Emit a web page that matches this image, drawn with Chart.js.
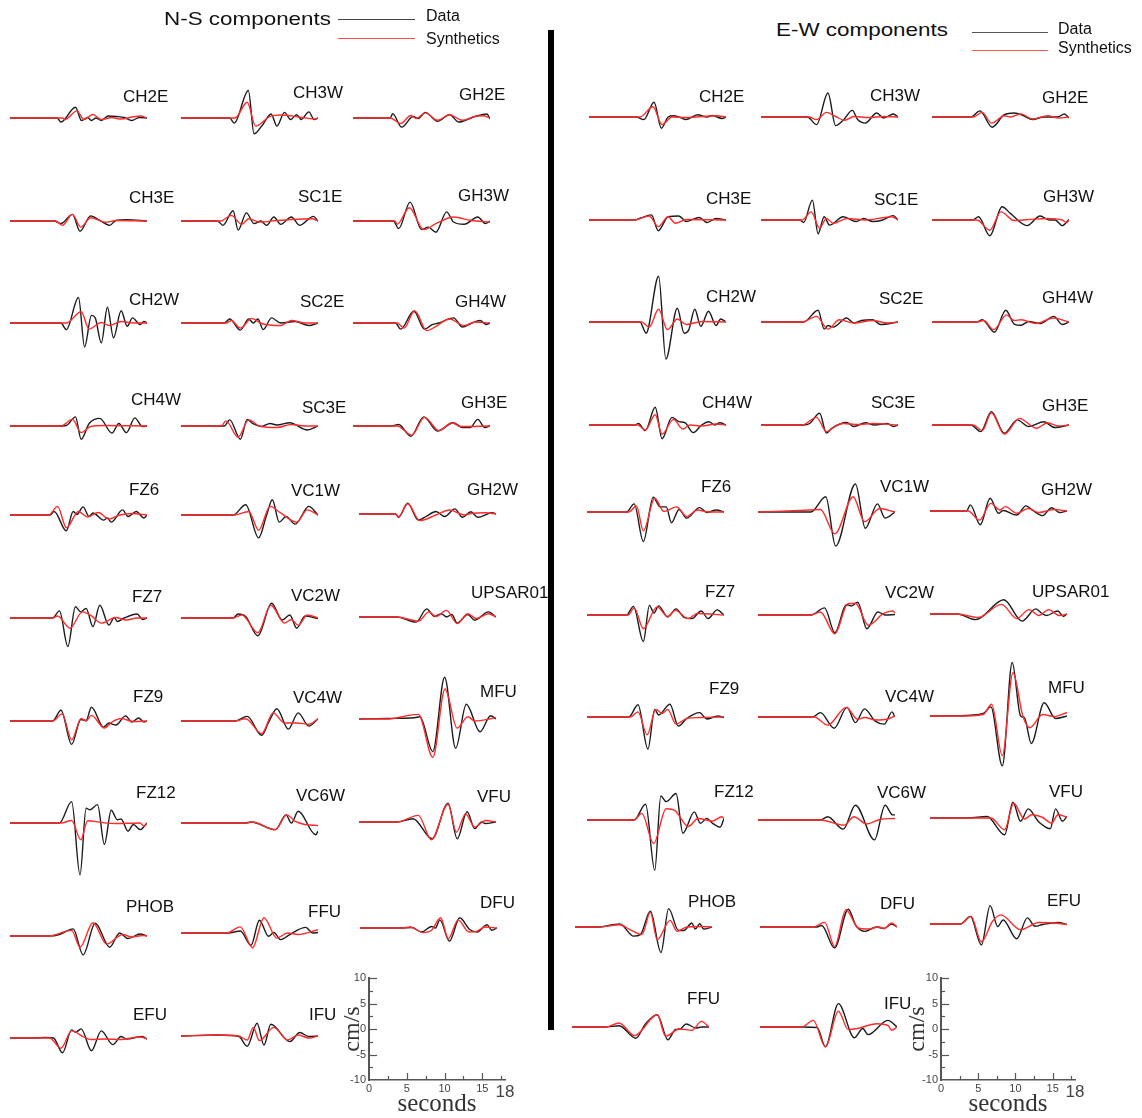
<!DOCTYPE html>
<html>
<head>
<meta charset="utf-8">
<script src="https://cdn.jsdelivr.net/npm/chart.js@4.4.0/dist/chart.umd.min.js"></script>
<style>
  body { margin: 0; background: #fff; }
  #page { position: relative; width: 1142px; height: 1118px; overflow: hidden; font-family: "Liberation Sans", Arial, sans-serif; }
  #page canvas { position: absolute; }
  .lab { position: absolute; font-size: 17px; line-height: 20px; color: #111; white-space: nowrap; }
  .head { position: absolute; font-size: 19px; line-height: 22px; color: #111; white-space: nowrap; transform: scaleX(1.18); transform-origin: left center; }
  .leg { position: absolute; font-size: 16px; line-height: 18px; color: #111; white-space: nowrap; }
  .legline { position: absolute; height: 1px; }
  #divider { position: absolute; left: 548px; top: 30px; width: 6px; height: 1000px; background: #000; }
</style>
</head>
<body>
<div id="page"><div id="divider"></div></div>
<script>
// time (s), velocity (cm/s); _d = data, _s = synthetics

// ---- N-S components ----
const ns_CH2E_d = [[0,0],[6.2,0],[6.7,-0.8],[8.6,2.1],[9.4,-0.5],[10.2,0.1],[10.7,-0.5],[11.3,0],[12,-0.5],[12.9,0.4],[14,0.3],[15,0.1],[16,-0.5],[17,0.1],[18,0]];
const ns_CH2E_s = [[0,0],[6.9,0],[7.2,-0.3],[8.8,1.4],[9.7,-0.3],[10.9,0.7],[12,-0.3],[13.4,0.1],[14.4,-0.2],[17.1,0.4],[18,0]];
const ns_CH3W_d = [[0,0],[6.4,0],[7.0,-1],[8.85,5.4],[9.6,-3.1],[10.6,-1.6],[11.85,0.8],[12.6,-1.6],[13.6,1.1],[14.4,-0.3],[15.2,0.65],[15.8,-0.3],[16.8,1.2],[17.5,-0.3],[18,0]];
const ns_CH3W_s = [[0,0],[7.1,0],[8.7,3.1],[9.8,-1.6],[11.7,0.3],[13.1,0.6],[15.9,0.1],[17.7,-0.2],[18,0]];
const ns_GH2E_d = [[0,0],[4.9,0],[5.2,0.85],[6.4,-1.8],[7.9,0.3],[8.6,-0.1],[9.5,1.1],[11.1,-0.65],[12.7,0.65],[13.9,-0.8],[16,0.3],[17.6,0.8],[18,-0.2]];
const ns_GH2E_s = [[0,0],[4.9,0],[6.25,-1.1],[7.6,0.5],[8.3,-0.1],[9.5,1.0],[11.1,-0.45],[12.7,0.65],[14.35,-0.45],[16,0.3],[17.1,0.45],[18,0]];
const ns_CH3E_d = [[0,0],[5.8,0],[6.7,-0.5],[8.2,1.3],[9.2,-2],[10.6,1.0],[11.8,0.1],[13.1,-0.85],[13.9,0.1],[15.3,0.25],[18,0]];
const ns_CH3E_s = [[0,0],[6.0,0],[6.9,-0.85],[8.2,1.3],[9.3,-1.2],[10.6,0.65],[12.5,-0.25],[14,0.1],[18,0]];
const ns_SC1E_d = [[0,0],[4.8,0],[5.5,-0.85],[6.85,2.0],[7.5,-1.8],[8.6,1.6],[9.6,-0.5],[10.5,0],[11.25,-0.85],[12.2,0.8],[13.1,-0.65],[14.5,0.8],[15.6,-0.85],[17.4,0.9],[18,0]];
const ns_SC1E_s = [[0,0],[5.2,0],[6.6,1.1],[8,-0.65],[8.9,0.45],[10.3,-0.2],[12.6,0.1],[14.5,0.3],[17.3,0.45],[18,0]];
const ns_GH3W_d = [[0,0],[5.3,0],[6,-1.5],[7.5,3.7],[9,-1.7],[9.9,-1.2],[10.9,-2.2],[12.3,1.8],[13.2,-0.2],[14.6,-0.65],[16.4,0.8],[17.4,-0.5],[18,0]];
const ns_GH3W_s = [[0,0],[5.5,0],[5.8,-0.65],[7.4,2.6],[9.3,-1.7],[10.9,-0.5],[13.2,0.8],[15.5,0.1],[18,-0.2]];
const ns_CH2W_d = [[0,0],[6.7,0],[7.4,-1.3],[9.0,5.0],[9.8,-4.7],[10.7,1.5],[11.2,1.0],[12,-3.9],[12.8,3.1],[13.6,-2.9],[14.6,2.4],[15.4,-0.65],[16.1,1],[17.1,-0.3],[17.6,0.3],[18,0]];
const ns_CH2W_s = [[0,0],[7.4,0],[9.35,2.2],[10.4,-1.2],[12,0.1],[13,-0.5],[14.6,0.3],[16.2,0],[18,0]];
const ns_SC2E_d = [[0,0],[5.7,0],[6.4,0.8],[7.8,-1.4],[8.9,0.8],[9.5,0],[10.1,0.8],[10.8,-1.3],[11.9,1.0],[13.1,0],[15,0.3],[16.8,-0.5],[18,0]];
const ns_SC2E_s = [[0,0],[6.0,0],[6.6,0.5],[7.8,-1.0],[9.3,0.9],[10.6,-0.1],[13.1,-0.5],[14.5,0.5],[16.3,0],[18,0]];
const ns_GH4W_d = [[0,0],[5.6,0],[6.25,-1.2],[8,2.3],[9.4,-1.2],[10.4,-0.3],[11.3,0],[13.2,1],[14.4,-0.8],[15.5,-0.1],[16.7,0.5],[17.5,-0.3],[18,0]];
const ns_GH4W_s = [[0,0],[5.8,0],[6.7,-1.0],[8.1,2.4],[9.7,-1.5],[10.9,-0.65],[12.7,0.8],[14.6,-0.5],[16,0.2],[18,0]];
const ns_CH4W_d = [[0,0],[6.25,0],[7.4,0.1],[8.6,1.8],[9.35,-2.6],[10.4,0.5],[11.8,1.5],[13.4,-1.4],[14.3,0.5],[15.3,-1.3],[16.4,1.6],[17.4,-0.1],[18,0]];
const ns_CH4W_s = [[0,0],[6.7,0],[8.2,1.3],[9.35,-1.3],[10.6,-0.1],[12.5,0.1],[18,0]];
const ns_SC3E_d = [[0,0],[5.7,0],[6.4,1.2],[7.8,-2.6],[8.7,1.3],[9.4,0.5],[10.6,-0.1],[11.7,0.5],[12.6,0.2],[14.3,0.65],[16.6,-0.8],[18,0]];
const ns_SC3E_s = [[0,0],[5.3,0],[5.9,1.0],[7.5,-2.2],[8.9,1.2],[10.3,0],[12.6,-0.3],[14.5,0.3],[16.3,0],[18,0]];
const ns_GH3E_d = [[0,0],[5.1,0],[6,0.3],[7.6,-2.0],[9.3,1.8],[11.1,-1.0],[13.2,0.65],[14.4,-0.3],[15.4,-0.3],[16.4,1.3],[17.3,-0.3],[18,0]];
const ns_GH3E_s = [[0,0],[5.8,0],[7.7,-1.8],[9.4,1.7],[11.3,-0.9],[13,0.65],[14.1,-0.1],[18,0]];
const ns_FZ6_d = [[0,0],[5.3,0],[5.8,0.7],[7.4,-3.1],[8.3,0.7],[8.8,0.1],[9.6,1.6],[10.4,-0.3],[10.9,0.4],[12.3,-1.0],[12.8,-0.6],[13.3,-1.4],[14.8,1.0],[15.5,-0.3],[16.6,0.7],[17.6,-0.6],[18,0]];
const ns_FZ6_s = [[0,0],[5.1,0],[6.25,1.7],[7.4,-2.5],[9,0.7],[10.2,-0.4],[11.6,0.5],[13,-0.8],[14.4,0],[16,0.3],[18,0]];
const ns_VC1W_d = [[0,0],[6.85,0],[8.5,2.0],[10.2,-4.5],[11.25,0],[12,3.0],[12.9,-1.4],[13.8,-0.3],[15,-1.8],[16.8,1.7],[18,0]];
const ns_VC1W_s = [[0,0],[7.1,0],[8.9,0.7],[10.2,-3.0],[11.7,1.7],[13.1,0.4],[15.2,-1.4],[16.6,1.0],[18,0]];
const ns_GH2W_d = [[0,0],[4.8,0],[5.2,-0.65],[6.4,2.1],[7.8,-1.2],[8.9,-0.4],[10.1,0.5],[11.25,-0.5],[12.6,1.0],[13.6,-0.65],[14.7,0.45],[15.6,-0.65],[17.5,0.25],[18,0]];
const ns_GH2W_s = [[0,0],[4.8,0],[5.2,-0.5],[6.4,2.0],[8,-1.3],[10.1,-0.2],[11.9,0.8],[13.8,-0.2],[14.7,0.1],[16.6,0.25],[18,0]];
const ns_FZ7_d = [[0,0],[5.6,0],[6.5,1.4],[7.6,-5.6],[8.6,2.2],[9.3,1.2],[10,1.9],[10.9,-1.7],[11.8,2.5],[13,-1.4],[13.7,0.1],[14.1,-0.7],[15,0],[16.7,0.8],[17.4,-0.3],[18,0]];
const ns_FZ7_s = [[0,0],[5.6,0],[6.25,0.4],[7.9,-2.0],[9.5,1.2],[10.7,0.4],[12,-1.0],[13.9,0.1],[15.3,-0.4],[16.7,0],[18,0]];
const ns_VC2W_d = [[0,0],[6.85,0],[7.5,0.8],[8.5,0.3],[10.1,-3.5],[11.9,2.9],[13.3,-0.4],[14.3,0.6],[15.2,-2.0],[16.3,0.4],[18,-0.1]];
const ns_VC2W_s = [[0,0],[6.85,0],[8,0.6],[10.1,-2.9],[11.8,2.5],[13.6,-1.0],[14.5,-0.3],[15.4,-1.4],[16.6,0.6],[18,0]];
const ns_UPSAR01_d = [[0,0],[5,0],[7.5,-1.0],[8.9,1.6],[9.9,0.1],[10.8,0.65],[11.5,0],[12.2,0.5],[12.9,-1.2],[14.3,0.5],[15.2,-0.65],[17,1.0],[18,0]];
const ns_UPSAR01_s = [[0,0],[5,0],[7.8,-0.8],[9.2,1.0],[10.1,0.1],[11.5,1.3],[12.9,-1.3],[14.3,0.65],[15.4,-0.3],[17,0.65],[18,0]];
const ns_FZ9_d = [[0,0],[5.6,0],[6.7,2.1],[8.1,-4.6],[9.3,0.3],[10,0.1],[10.7,2.7],[12.3,-1.2],[13,-0.4],[13.9,-0.8],[15.2,1.0],[16,-0.2],[16.9,0.6],[17.6,-0.2],[18,0]];
const ns_FZ9_s = [[0,0],[5.6,0],[6.85,1.4],[8.1,-3.7],[9.35,0.5],[10,0],[10.7,1.1],[12.4,-1.4],[13.4,-0.2],[14.6,0.5],[16.2,-0.1],[18,0]];
const ns_VC4W_d = [[0,0],[7.1,0],[8.7,0.9],[10.6,-2.8],[11.5,-0.3],[12.6,2.4],[14.1,-1.6],[15.4,1.6],[16.8,-1.0],[18,0.4]];
const ns_VC4W_s = [[0,0],[7.1,0],[8.5,0.45],[10.6,-2.5],[12.1,1.6],[13.6,-0.4],[15.2,-0.4],[16.8,-0.65],[18,0.45]];
const ns_MFU_d = [[0,0],[3.6,0.1],[7.3,0.25],[8.0,0.45],[9.7,-6.4],[11.25,8.2],[12.7,-5.75],[14.1,2.9],[15.9,-2.5],[17.3,0.65],[18,0]];
const ns_MFU_s = [[0,0],[3.6,0],[7.8,0.9],[9.7,-7.5],[11.3,5.9],[12.9,-1.8],[14.3,0.45],[15.2,-0.4],[18,0.25]];
const ns_FZ12_d = [[0,0],[6.5,0],[8.1,4.2],[9.2,-10.2],[10,2.9],[10.5,2.6],[11.5,3.6],[12.4,-4.2],[13.3,2.5],[14.1,0.65],[14.6,0.8],[15.5,-1.6],[16.2,-0.3],[17.1,-1.3],[18,0]];
const ns_FZ12_s = [[0,0],[6.7,0],[8.1,0.5],[9.3,-3.3],[10.2,0.45],[12,0.1],[13.9,-0.1],[17.1,0],[17.6,-0.65],[18,0]];
const ns_VC6W_d = [[0,0],[8.5,0],[9.2,0.2],[12.4,-1.3],[13.8,1.6],[14.5,0],[15.4,2.3],[17.7,-2.3],[18,-1.6]];
const ns_VC6W_s = [[0,0],[8.5,0],[9.4,0.2],[12.4,-1.3],[13.9,1.6],[15,0.3],[16.3,-0.3],[18,-0.5]];
const ns_VFU_d = [[0,0],[5,0],[7.1,0.65],[9.6,-3.3],[11.7,3.7],[12.9,-3.3],[14.2,2.0],[15.2,-1.3],[16.1,0],[16.6,-0.3],[18,0]];
const ns_VFU_s = [[0,0],[5,0],[7.8,1.3],[9.5,-3.5],[11.7,3.5],[12.8,-2.0],[14,1.6],[15.2,-1.0],[16.6,0.3],[18,0]];
const ns_PHOB_d = [[0,0],[5.1,0],[6.5,0.3],[8.3,1.4],[9.6,-3.7],[11.2,2.5],[13.1,-2.2],[14.4,0.6],[15.5,-0.5],[17.1,0.4],[18,0]];
const ns_PHOB_s = [[0,0],[5.1,0],[8.1,1.1],[9.2,-2.2],[10.9,2.6],[12.7,-1.6],[14.8,0.3],[16,-0.2],[17.4,0.1],[18,0]];
const ns_FFU_d = [[0,0],[6.2,0],[7.8,0.4],[9.2,-2.4],[10.3,2.5],[11.5,-0.65],[12.2,0.1],[13.1,-1.3],[14.3,-0.3],[16.4,1.1],[17.3,0],[18,0.1]];
const ns_FFU_s = [[0,0],[6.0,0],[7.8,1.2],[9.4,-2.9],[10.9,3.0],[12.6,-1.0],[14,0],[15.4,-0.3],[18,0.65]];
const ns_DFU_d = [[0,0],[5.3,0],[6.8,0.1],[8.1,-0.8],[9.4,0.3],[9.9,0],[10.5,1.6],[11.75,-2.6],[13.1,2.0],[14.4,-0.3],[15.4,-0.8],[16.7,0.65],[17.3,-0.45],[18,0]];
const ns_DFU_s = [[0,0],[5.3,0],[6.6,0.2],[8.3,-0.9],[9.4,-0.45],[10.6,2.0],[11.6,-2.1],[12.9,1.6],[14.3,-0.8],[15.4,-0.6],[16.4,0.2],[18,0]];
const ns_EFU_d = [[0,0],[3.2,0],[4.6,0.1],[5.7,0],[6.9,-2.9],[8.1,1.6],[8.6,1.1],[9.35,1.8],[10.7,-2.5],[12,1.4],[13.5,-1.3],[14.6,0.3],[15.3,-0.2],[17.4,0.3],[18,-0.2]];
const ns_EFU_s = [[0,0],[5.2,0],[6.7,-2.0],[8.1,1.4],[9.7,0.2],[10.6,-0.3],[12.5,-0.2],[14.4,-0.3],[17.1,0.2],[18,-0.2]];
const ns_IFU_d = [[0,0],[4.8,0.2],[7.6,-0.1],[8.7,-2.0],[10,2.5],[10.9,-1.8],[11.8,2.3],[14.3,-1.1],[15.6,0.7],[16.8,-0.1],[18,0]];
const ns_IFU_s = [[0,0],[4.8,0.2],[7.6,0],[8.7,-0.8],[9.5,1.7],[10.3,-0.9],[12.2,1.7],[14.0,-0.8],[15.4,0.2],[16.8,-0.4],[18,0]];

// ---- E-W components ----
const ew_CH2E_d = [[0,0],[6.2,0],[7.2,-0.5],[8.55,2.9],[9.5,-2.2],[10.4,0],[11.1,0.25],[12,-0.1],[12.7,-0.5],[14.3,0.45],[15.5,0],[16.2,0.3],[17.5,-0.3],[18,0]];
const ew_CH2E_s = [[0,0],[6.7,0],[8.4,2.0],[9.6,-1.5],[10.9,0],[12.8,-0.1],[14.8,0.1],[16.7,0.25],[18,0]];
const ew_CH3W_d = [[0,0],[6.1,0],[7.3,-1.5],[8.8,4.7],[9.8,-1.7],[10.8,-0.65],[12,1.3],[12.7,-0.5],[13.7,-1.2],[15.2,0.8],[16.1,-0.2],[17.4,0.6],[18,0]];
const ew_CH3W_s = [[0,0],[6.3,0],[7.3,-0.5],[8.6,0.9],[9.8,0.1],[11,-0.65],[12.2,0.1],[14.2,-0.1],[16.1,0.1],[18,0]];
const ew_GH2E_d = [[0,0],[5.1,0],[6.3,1.2],[7.9,-2.0],[9.5,0.45],[10.8,0.8],[12,0.3],[13.2,-0.5],[14.7,0],[16.5,0],[17.4,0.6],[18,-0.2]];
const ew_GH2E_s = [[0,0],[5.4,0],[6.6,0.9],[7.8,-1.2],[9.5,0.25],[10.3,0],[11.7,0.6],[13.2,-0.4],[15.2,0.25],[16.6,-0.2],[18,0]];
const ew_CH3E_d = [[0,0],[6,0],[6.8,0.4],[8.2,1.0],[9.1,-2.1],[10.4,0.65],[11.8,0.8],[12.8,-0.3],[14.5,0.5],[15.5,-0.5],[16.7,0.3],[18,0]];
const ew_CH3E_s = [[0,0],[6,0],[7.9,0.8],[9.1,-1.3],[10.4,0.65],[11.35,-0.65],[12.8,0.1],[18,0]];
const ew_SC1E_d = [[0,0],[5.1,0],[5.6,-0.5],[6.75,3.9],[7.5,-2.7],[8.3,0.65],[9,-1.0],[10.8,0.65],[12.5,-0.3],[13.5,0.3],[14.7,-0.3],[16,0],[17.4,0.85],[18,0]];
const ew_SC1E_s = [[0,0],[5.4,0],[6.6,1.6],[7.7,-1.6],[8.6,0.3],[9.5,-0.65],[11.3,0.3],[13.7,0],[17.2,0.65],[18,0]];
const ew_GH3W_d = [[0,0],[5.4,0],[6.1,0.65],[7.6,-3.1],[9.2,2.6],[10.3,1.3],[12.5,-1.1],[14.2,0.8],[15.4,0],[16.2,0],[17.1,-1.1],[18,0.1]];
const ew_GH3W_s = [[0,0],[5.9,0],[7.6,-2.0],[9.05,1.6],[10.8,-0.1],[12.7,0.1],[15.2,0.3],[17.1,0],[17.7,-0.5],[18,0]];
const ew_CH2W_d = [[0,0],[6.7,0],[7.5,-2.2],[9.15,9.0],[10.1,-7.3],[11.6,2.7],[12.5,-2.2],[13.1,-1.6],[13.9,2.5],[14.7,-0.85],[15.7,2.1],[16.7,-0.7],[17.3,0.6],[18,0]];
const ew_CH2W_s = [[0,0],[6.9,0],[7.9,-1.0],[9.15,2.5],[10.3,-1.5],[11.6,0.6],[12.8,-0.5],[14.8,0.1],[18,0]];
const ew_SC2E_d = [[0,0],[5.6,0],[7.5,2.3],[8.3,-1.4],[8.8,-0.7],[9.5,-1.0],[11.25,0.8],[12.2,-0.2],[13.2,0.3],[14.7,0.45],[15.7,-0.5],[18,0]];
const ew_SC2E_s = [[0,0],[5.4,0],[7.3,1.1],[8.8,-1.4],[10.3,0.45],[12.2,-0.2],[14.7,0.3],[16.6,-0.2],[18,0]];
const ew_GH4W_d = [[0,0],[5.9,0],[6.6,0.45],[8.2,-2.0],[9.7,2.3],[10.8,-0.4],[11.7,-0.65],[12.7,0.1],[14.2,-0.3],[16,1.1],[17.1,-0.5],[18,0]];
const ew_GH4W_s = [[0,0],[5.9,0],[6.8,0.3],[8.1,-1.5],[9.8,1.4],[10.8,0.3],[11.7,0.45],[13.7,-0.3],[15.9,0.8],[18,0]];
const ew_CH4W_d = [[0,0],[6,0],[6.5,0.3],[7.4,-1.1],[8.7,3.5],[9.6,-2.7],[10.9,1.5],[11.8,0.65],[12.6,0.45],[13.7,-1.5],[14.8,0],[15.75,0.65],[16.5,0],[17.2,0.45],[18,0]];
const ew_CH4W_s = [[0,0],[6.4,0],[7.4,-1.0],[8.7,2.0],[9.6,-1.8],[11.1,1.1],[12.3,-0.8],[13.3,0],[14.8,-0.2],[16.7,0.2],[18,0]];
const ew_SC3E_d = [[0,0],[5.6,0],[6.4,0.3],[7.7,2.3],[8.6,-1.6],[9.3,-0.65],[11.25,0.5],[12.2,-0.3],[13.7,0.45],[14.9,0],[16.6,0.3],[17.4,-0.3],[18,0]];
const ew_SC3E_s = [[0,0],[5.4,0],[7.3,1.5],[8.6,-1.3],[9.8,-0.2],[10.8,0.3],[12.7,0.1],[14.7,0.3],[18,0]];
const ew_GH3E_d = [[0,0],[5.1,0],[6.4,-1.3],[7.8,2.6],[9.5,-1.6],[11.2,1.0],[12.7,-0.3],[14.7,0.65],[16.1,-0.5],[18,0]];
const ew_GH3E_s = [[0,0],[5.4,0],[6.6,-1.1],[7.8,2.4],[9.5,-1.8],[11.5,1.3],[13.7,-0.65],[15.2,0.45],[16.6,-0.2],[18,0]];
const ew_FZ6_d = [[0,0],[5.2,0],[6.2,1.6],[7.4,-5.8],[8.7,2.9],[9.6,1.0],[10.4,1.0],[11.1,-2.1],[12.1,0.5],[13.1,-1.2],[14.8,0.85],[15.75,-0.1],[17,0.4],[18,0]];
const ew_FZ6_s = [[0,0],[5.5,0],[6.5,1.2],[7.4,-3.7],[8.9,2.7],[10.1,0.1],[11.8,1.0],[13.1,-0.9],[14.5,0.4],[16,0],[18,0]];
const ew_VC1W_d = [[0,0],[6.95,0],[8.9,3.0],[10.2,-6.7],[12.8,5.5],[14.1,-3.2],[15.7,1.6],[16.7,-1.2],[18,0]];
const ew_VC1W_s = [[0,0],[6.9,0.4],[8.2,0.5],[10.1,-4.3],[12.5,3.0],[14,-1.9],[16,0.7],[18,0]];
const ew_GH2W_d = [[0,0],[4.8,0],[5.3,1.2],[6.6,-2.7],[7.9,2.5],[9,-0.45],[9.6,0.1],[11.4,-0.8],[12.6,1.0],[13.6,0],[14.8,-0.9],[16,0.65],[17,-0.3],[18,0]];
const ew_GH2W_s = [[0,0],[5,0],[6.5,-1.8],[8,1.5],[9.2,0.2],[9.9,0.85],[11.4,-0.45],[12.9,0.5],[14.3,-0.3],[16.3,0.3],[18,0]];
const ew_FZ7_d = [[0,0],[5.2,0],[6.1,1.7],[7.4,-5.2],[8.2,1.9],[8.8,0.4],[9.4,1.8],[10.6,-0.4],[11.7,1.2],[12.8,-0.5],[13.8,-0.7],[15,0.8],[15.9,-0.7],[17.1,1.0],[18,0]];
const ew_FZ7_s = [[0,0],[5.4,0],[6.2,1.4],[7.4,-2.7],[9.2,1.6],[10.6,-0.3],[11.6,0.9],[13.3,-0.7],[14.5,0.3],[18,0]];
const ew_VC2W_d = [[0,0],[6.95,0],[8.75,1.4],[10.1,-3.5],[11.6,2.0],[12.3,1.8],[13.1,2.5],[14.3,-2.7],[15.75,0.6],[16.7,0],[18,0.1]];
const ew_VC2W_s = [[0,0],[6.95,0],[8.2,0.6],[10.1,-3.7],[11.8,2.2],[12.8,2.3],[14.5,-2.0],[16.5,0.3],[17.7,0.8],[18,0.4]];
const ew_UPSAR01_d = [[0,0],[3.6,0],[6,-1.1],[9.7,2.8],[12.1,-1.4],[13.9,1.0],[14.8,0],[15.3,-0.3],[16.8,0.6],[17.5,-0.45],[18,0]];
const ew_UPSAR01_s = [[0,0],[3.6,0],[6.3,-0.7],[9.4,1.9],[11.4,-0.9],[13,0.85],[14.3,-0.3],[15.6,0.85],[17,-0.3],[18,0]];
const ew_FZ9_d = [[0,0],[5.5,0],[6.7,2.4],[8,-6.3],[8.9,1.5],[9.4,0.4],[10.9,2.5],[12,-1.8],[13.1,-0.3],[14.8,0.85],[15.75,-0.4],[17.2,0.2],[18,-0.1]];
const ew_FZ9_s = [[0,0],[5.7,0],[6.7,1.0],[7.9,-3.5],[9.05,1.5],[9.9,0.7],[10.6,1.5],[11.7,-1.4],[13.1,-0.3],[15,-0.1],[18,0]];
const ew_VC4W_d = [[0,0],[7.2,0],[8.2,0.85],[10,-2.2],[11.7,1.9],[12.8,-1.1],[14,1.6],[15.4,-0.8],[16.6,-1.4],[17.6,1.0],[18,0]];
const ew_VC4W_s = [[0,0],[7.4,0],[9.15,-1.6],[11.6,1.9],[13.1,-0.45],[14,-0.1],[15.5,-0.6],[17,-0.45],[18,0.2]];
const ew_MFU_d = [[0,0],[3.6,0.05],[7,0.5],[8,1.8],[9.5,-9.8],[10.8,10.5],[11.9,0],[12.4,-0.3],[13.3,-5.4],[15,2.6],[16.5,-0.5],[18,0]];
const ew_MFU_s = [[0,0],[3.6,0],[7,0.3],[8.1,2.3],[9.5,-7.8],[10.9,8.5],[12.2,0],[13.1,-2.3],[14.8,0.3],[16.3,-0.1],[18,0.7]];
const ew_FZ12_d = [[0,0],[6.2,0],[7.7,3.1],[8.9,-9.9],[9.7,4.7],[10.4,3.6],[11.7,5.2],[12.6,-2.6],[14.1,1.6],[14.9,-0.65],[15.75,0.3],[16.5,-0.65],[17.5,-1.4],[18,0.3]];
const ew_FZ12_s = [[0,0],[6.2,0],[7.2,1.3],[8.75,-4.6],[10.4,2.2],[11.6,1.8],[13.3,-1.3],[14.6,0.3],[16.5,-0.2],[17.7,0.65],[18,0.3]];
const ew_VC6W_d = [[0,0],[8.2,0],[9.15,0.65],[11.2,-1.8],[12.8,2.9],[15.3,-3.9],[16.7,2.9],[17.7,1.0],[18,1.0]];
const ew_VC6W_s = [[0,0],[8.2,0],[11.35,-1.0],[12.6,0.65],[14.3,-0.8],[16,0.1],[18,0.3]];
const ew_VFU_d = [[0,0],[5,0],[7.5,0.3],[9.8,-3.3],[10.9,3.1],[11.9,-0.65],[12.9,1.8],[14.3,-0.8],[15.8,-2.1],[16.5,1.8],[17.4,-0.65],[18,0.3]];
const ew_VFU_s = [[0,0],[5,0],[8,0],[9.8,-2.3],[11,2.9],[12.4,-0.2],[13.4,0.65],[14.8,0.1],[16,-1.0],[16.8,0.65],[18,0.2]];
const ew_PHOB_d = [[0,0],[3,0],[5.9,0.6],[7.7,-1.8],[8.6,-1.5],[9.9,3.1],[11.3,-5.0],[12.3,3.6],[13.6,-0.7],[14.3,-0.7],[15.35,0.8],[15.8,-0.4],[16.4,0.65],[16.9,-0.4],[18,0]];
const ew_PHOB_s = [[0,0],[3,0],[5.9,0.45],[7.2,-0.5],[8.8,-1.5],[9.9,2.9],[10.8,-2.5],[12.5,1.3],[13.4,-0.85],[14.7,0],[16.4,0.1],[18,0]];
const ew_DFU_d = [[0,0],[7.5,0],[8.1,0.3],[9.8,-4.1],[11.6,3.5],[12.6,0.3],[13.8,-0.85],[15.3,0],[16.3,-0.3],[17.3,0.6],[18,0]];
const ew_DFU_s = [[0,0],[7,0],[8.5,0.9],[9.8,-3.8],[11.3,3.4],[12.9,-0.2],[14.3,-0.4],[15.6,0],[16.3,-0.3],[17.3,0.8],[18,0]];
const ew_EFU_d = [[0,0],[4,0],[5.3,1.5],[6.75,-4.1],[7.9,3.6],[8.9,-0.5],[9.6,0.8],[11.4,-2.9],[12.8,1.2],[13.8,-0.45],[14.8,-0.1],[16.8,0.3],[18,-0.1]];
const ew_EFU_s = [[0,0],[4,0],[5.4,1.5],[6.75,-3.5],[8.2,0.5],[9.3,1.8],[11.9,-1.1],[14.3,0.3],[16.3,0.2],[18,-0.1]];
const ew_FFU_d = [[0,0],[4.3,0],[6.2,0.25],[8.4,-2.2],[9.6,0.5],[11.2,2.4],[12.6,-2.5],[13.6,-0.5],[14.2,-0.4],[15,0.6],[16.3,-0.2],[17,0],[18,0]];
const ew_FFU_s = [[0,0],[4.5,0],[6.2,0.8],[8.2,-1.7],[11.2,2.4],[12.3,-1.8],[14.1,-0.4],[15.75,-0.65],[17,1.1],[18,0]];
const ew_IFU_d = [[0,0],[5.5,0],[7.5,-0.1],[8.6,-3.9],[10.3,4.6],[12.4,-2.1],[13.5,-0.3],[14.2,-1.5],[16.8,1.3],[18,0]];
const ew_IFU_s = [[0,0],[5.5,0],[7,1.3],[8.6,-3.9],[10.3,3.1],[11.6,-0.5],[12.8,-0.3],[15.3,0.65],[16.8,0.3],[17.3,-0.65],[18,0]];

// scale-bar axes
const secTicks = [0, 2.5, 5, 7.5, 10, 12.5, 15, 17.5, 18];
const velTicks = [-10, -7.5, -5, -2.5, 0, 2.5, 5, 7.5, 10];

// layout: station, data, synthetics, panel left, baseline y, label left, label middle
const nsPanels = [
  ['CH2E', ns_CH2E_d, ns_CH2E_s, 10, 118, 123, 97],
  ['CH3W', ns_CH3W_d, ns_CH3W_s, 181, 118, 293, 93],
  ['GH2E', ns_GH2E_d, ns_GH2E_s, 353, 118, 459, 95],
  ['CH3E', ns_CH3E_d, ns_CH3E_s, 10, 221, 129, 198],
  ['SC1E', ns_SC1E_d, ns_SC1E_s, 181, 221, 298, 197],
  ['GH3W', ns_GH3W_d, ns_GH3W_s, 353, 221, 458, 196],
  ['CH2W', ns_CH2W_d, ns_CH2W_s, 10, 323, 129, 300],
  ['SC2E', ns_SC2E_d, ns_SC2E_s, 181, 323, 300, 302],
  ['GH4W', ns_GH4W_d, ns_GH4W_s, 353, 323, 455, 302],
  ['CH4W', ns_CH4W_d, ns_CH4W_s, 10, 426, 131, 400],
  ['SC3E', ns_SC3E_d, ns_SC3E_s, 181, 426, 302, 408],
  ['GH3E', ns_GH3E_d, ns_GH3E_s, 353, 426, 461, 403],
  ['FZ6', ns_FZ6_d, ns_FZ6_s, 10, 515, 129, 490],
  ['VC1W', ns_VC1W_d, ns_VC1W_s, 181, 515, 291, 491],
  ['GH2W', ns_GH2W_d, ns_GH2W_s, 359, 514, 467, 490],
  ['FZ7', ns_FZ7_d, ns_FZ7_s, 10, 618, 132, 597],
  ['VC2W', ns_VC2W_d, ns_VC2W_s, 181, 618, 291, 596],
  ['UPSAR01', ns_UPSAR01_d, ns_UPSAR01_s, 359, 617, 471, 593],
  ['FZ9', ns_FZ9_d, ns_FZ9_s, 10, 721, 133, 697],
  ['VC4W', ns_VC4W_d, ns_VC4W_s, 181, 721, 293, 698],
  ['MFU', ns_MFU_d, ns_MFU_s, 359, 719, 480, 692],
  ['FZ12', ns_FZ12_d, ns_FZ12_s, 10, 823, 136, 793],
  ['VC6W', ns_VC6W_d, ns_VC6W_s, 181, 823, 296, 796],
  ['VFU', ns_VFU_d, ns_VFU_s, 359, 822, 477, 797],
  ['PHOB', ns_PHOB_d, ns_PHOB_s, 10, 936, 126, 907],
  ['FFU', ns_FFU_d, ns_FFU_s, 181, 933, 308, 912],
  ['DFU', ns_DFU_d, ns_DFU_s, 360, 928, 480, 903],
  ['EFU', ns_EFU_d, ns_EFU_s, 10, 1038, 133, 1015],
  ['IFU', ns_IFU_d, ns_IFU_s, 181, 1036, 309, 1015]
];
const ewPanels = [
  ['CH2E', ew_CH2E_d, ew_CH2E_s, 589, 117, 699, 97],
  ['CH3W', ew_CH3W_d, ew_CH3W_s, 761, 117, 870, 96],
  ['GH2E', ew_GH2E_d, ew_GH2E_s, 932, 117, 1042, 98],
  ['CH3E', ew_CH3E_d, ew_CH3E_s, 589, 220, 706, 199],
  ['SC1E', ew_SC1E_d, ew_SC1E_s, 761, 220, 874, 200],
  ['GH3W', ew_GH3W_d, ew_GH3W_s, 932, 220, 1043, 197],
  ['CH2W', ew_CH2W_d, ew_CH2W_s, 589, 322, 706, 297],
  ['SC2E', ew_SC2E_d, ew_SC2E_s, 761, 322, 879, 299],
  ['GH4W', ew_GH4W_d, ew_GH4W_s, 932, 322, 1042, 298],
  ['CH4W', ew_CH4W_d, ew_CH4W_s, 589, 425, 702, 403],
  ['SC3E', ew_SC3E_d, ew_SC3E_s, 761, 425, 871, 403],
  ['GH3E', ew_GH3E_d, ew_GH3E_s, 932, 425, 1042, 406],
  ['FZ6', ew_FZ6_d, ew_FZ6_s, 587, 512, 701, 487],
  ['VC1W', ew_VC1W_d, ew_VC1W_s, 758, 512, 880, 487],
  ['GH2W', ew_GH2W_d, ew_GH2W_s, 930, 511, 1041, 490],
  ['FZ7', ew_FZ7_d, ew_FZ7_s, 587, 615, 705, 592],
  ['VC2W', ew_VC2W_d, ew_VC2W_s, 758, 615, 885, 593],
  ['UPSAR01', ew_UPSAR01_d, ew_UPSAR01_s, 930, 614, 1032, 592],
  ['FZ9', ew_FZ9_d, ew_FZ9_s, 587, 717, 709, 689],
  ['VC4W', ew_VC4W_d, ew_VC4W_s, 758, 717, 885, 697],
  ['MFU', ew_MFU_d, ew_MFU_s, 930, 716, 1048, 688],
  ['FZ12', ew_FZ12_d, ew_FZ12_s, 587, 820, 714, 792],
  ['VC6W', ew_VC6W_d, ew_VC6W_s, 758, 820, 877, 793],
  ['VFU', ew_VFU_d, ew_VFU_s, 930, 818, 1049, 792],
  ['PHOB', ew_PHOB_d, ew_PHOB_s, 575, 927, 688, 902],
  ['DFU', ew_DFU_d, ew_DFU_s, 760, 927, 880, 904],
  ['EFU', ew_EFU_d, ew_EFU_s, 930, 924, 1047, 901],
  ['FFU', ew_FFU_d, ew_FFU_s, 572, 1027, 687, 999],
  ['IFU', ew_IFU_d, ew_IFU_s, 760, 1027, 884, 1004]
];

const page = document.getElementById('page');
const PW = 137, PH = 112, VMAX = 11;

function addText(cls, text, left, mid, h) {
  const d = document.createElement('div');
  d.className = cls;
  d.textContent = text;
  d.style.left = left + 'px';
  d.style.top = (mid - h / 2) + 'px';
  page.appendChild(d);
}

function addLine(left, top, width, color) {
  const d = document.createElement('div');
  d.className = 'legline';
  d.style.left = left + 'px';
  d.style.top = top + 'px';
  d.style.width = width + 'px';
  d.style.background = color;
  page.appendChild(d);
}

function toXY(arr) {
  return arr.map(function (p) { return { x: p[0], y: p[1] }; });
}

function addPanel(p) {
  const c = document.createElement('canvas');
  c.width = PW;
  c.height = PH;
  c.style.left = p[3] + 'px';
  c.style.top = (p[4] - PH / 2) + 'px';
  page.appendChild(c);
  new Chart(c, {
    type: 'line',
    data: {
      datasets: [
        { label: 'Data', data: toXY(p[1]), borderColor: '#1c1c1c', order: 1 },
        { label: 'Synthetics', data: toXY(p[2]), borderColor: '#ff2a2a', order: 0 }
      ]
    },
    options: {
      responsive: false,
      animation: false,
      events: [],
      layout: { padding: 0 },
      elements: {
        point: { radius: 0 },
        line: { borderWidth: 1.4, cubicInterpolationMode: 'monotone', fill: false }
      },
      scales: {
        x: { type: 'linear', min: 0, max: 18, display: false },
        y: { type: 'linear', min: -VMAX, max: VMAX, display: false }
      },
      plugins: { legend: { display: false }, tooltip: { enabled: false } }
    }
  });
  addText('lab', p[0], p[5], p[6], 20);
}

// inward tick marks on the scale-bar axes
const inwardTicks = {
  id: 'inwardTicks',
  afterDraw(chart) {
    const ctx = chart.ctx;
    const xs = chart.scales.x, ys = chart.scales.y;
    ctx.save();
    ctx.strokeStyle = '#555';
    ctx.lineWidth = 1.2;
    xs.ticks.forEach(function (t) {
      if (t.value === 18 || t.value === 0) return;
      const px = Math.round(xs.getPixelForValue(t.value)) + 0.5;
      const len = t.value % 5 === 0 ? 7 : 4;
      ctx.beginPath();
      ctx.moveTo(px, ys.bottom);
      ctx.lineTo(px, ys.bottom - len);
      ctx.stroke();
    });
    ys.ticks.forEach(function (t) {
      if (t.value === -10) return;
      const py = Math.round(ys.getPixelForValue(t.value)) + 0.5;
      const len = t.value % 5 === 0 ? 8 : 4;
      ctx.beginPath();
      ctx.moveTo(xs.left, py);
      ctx.lineTo(xs.left + len, py);
      ctx.stroke();
    });
    ctx.restore();
  }
};

function addScale(left, top, padRight, titlePad) {
  const c = document.createElement('canvas');
  c.width = 200;
  c.height = 150;
  c.style.left = left + 'px';
  c.style.top = top + 'px';
  page.appendChild(c);
  new Chart(c, {
    type: 'scatter',
    data: { datasets: [] },
    plugins: [inwardTicks],
    options: {
      responsive: false,
      animation: false,
      events: [],
      layout: { padding: { top: 10, right: padRight, left: 0, bottom: 0 } },
      scales: {
        x: {
          type: 'linear', min: 0, max: 18,
          afterBuildTicks: function (s) { s.ticks = secTicks.map(function (v) { return { value: v }; }); },
          afterFit: function (s) { s.height = 38; },
          grid: { display: false, drawTicks: false },
          border: { color: '#555', width: 1.5 },
          ticks: {
            autoSkip: false, maxRotation: 0, padding: 2, color: '#444',
            font: function (ctx) {
              return { family: '"Liberation Sans", Arial', size: ctx.tick && ctx.tick.value === 18 ? 17 : 11 };
            },
            callback: function (v) { return v === 18 ? '18' : (v % 5 === 0 ? String(v) : ''); }
          },
          title: {
            display: true, text: 'seconds', color: '#333',
            font: { family: '"Liberation Serif", "DejaVu Serif", serif', size: 25, lineHeight: 1 },
            padding: { top: 0, bottom: 1 }
          }
        },
        y: {
          type: 'linear', min: -10, max: 10,
          afterBuildTicks: function (s) { s.ticks = velTicks.map(function (v) { return { value: v }; }); },
          afterFit: function (s) { s.width = 39; },
          grid: { display: false, drawTicks: false },
          border: { color: '#555', width: 2 },
          ticks: {
            autoSkip: false, padding: 3, color: '#444',
            font: { family: '"Liberation Sans", Arial', size: 11 },
            callback: function (v) { return v % 5 === 0 ? String(v) : ''; }
          },
          title: {
            display: true, text: 'cm/s', color: '#333',
            font: { family: '"Liberation Serif", "DejaVu Serif", serif', size: 24, lineHeight: 1 },
            padding: { top: titlePad, bottom: 0 }
          }
        }
      },
      plugins: { legend: { display: false }, tooltip: { enabled: false } }
    }
  });
}

nsPanels.forEach(addPanel);
ewPanels.forEach(addPanel);
addScale(330, 968, 25, 11);
addScale(902, 968, 27, 4);

// headers and legends
addText('head', 'N-S components', 164, 19, 22);
addLine(338, 19, 77, '#444');
addLine(338, 38, 77, '#ff4a4a');
addText('leg', 'Data', 426, 16, 18);
addText('leg', 'Synthetics', 426, 38.5, 18);

addText('head', 'E-W components', 776, 30, 22);
addLine(972, 32, 76, '#555');
addLine(972, 50, 76, '#ff5a5a');
addText('leg', 'Data', 1058, 29, 18);
addText('leg', 'Synthetics', 1058, 48, 18);
</script>
</body>
</html>
